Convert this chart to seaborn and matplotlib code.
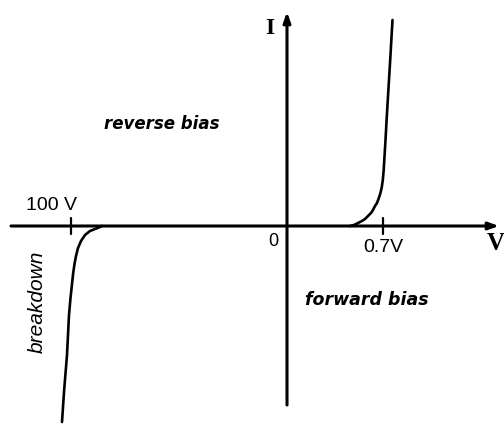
import matplotlib
matplotlib.use("Agg")
import matplotlib.pyplot as plt
import seaborn as sns
import pandas as pd

# Diode I-V characteristic (schematic units; origin at the axes crossing)
fwd_v = [63, 67, 71, 75, 78, 81, 84, 86, 88, 90, 92.2, 93.7, 94.8, 95.8, 96.7, 97.6,
         98.5, 99.6, 101.2, 103.2, 105.5]
fwd_i = [0, 1, 3, 5, 7, 10, 13, 16, 20, 23, 29, 34, 39, 46, 56, 71,
         86, 106, 133, 166, 206]
brk_v = [-185, -187, -192, -197, -202, -206, -209, -211, -212.5, -213.8, -215, -216.5,
         -218, -220, -223, -225]
brk_i = [0, -1, -3, -5, -9, -15, -22, -30, -38, -47, -58, -72,
         -89, -129, -166, -196]

tick_pos = [-216, 96]
tick_labels = ["100 V", "0.7V"]

sns.set_theme(style="white")
plt.rcParams['font.family'] = ['Liberation Sans', 'DejaVu Sans']
plt.rcParams['text.color'] = 'black'

fig = plt.figure(figsize=(5.04, 4.25), dpi=100)
ax = fig.add_axes([0, 0, 1, 1])
ax.set_xlim(-287, 217)
ax.set_ylim(-199, 226)
ax.axis("off")

fwd = pd.DataFrame({"V": fwd_v, "I": fwd_i})
brk = pd.DataFrame({"V": brk_v, "I": brk_i})
sns.lineplot(data=fwd, x="V", y="I", sort=False, color="black", lw=1.9, ax=ax)
sns.lineplot(data=brk, x="V", y="I", sort=False, color="black", lw=1.9, ax=ax)

# axes with arrows
ax.annotate("", xy=(212, 0), xytext=(-276, 0),
            arrowprops=dict(arrowstyle="-|>,head_length=0.5,head_width=0.18",
                            color="black", lw=2.2, shrinkA=0, shrinkB=0))
ax.annotate("", xy=(0, 214), xytext=(0, -179),
            arrowprops=dict(arrowstyle="-|>,head_length=0.5,head_width=0.18",
                            color="black", lw=2.2, shrinkA=0, shrinkB=0))

for p in tick_pos:
    ax.plot([p, p], [-8, 8], color="black", lw=1.6)

ax.text(tick_pos[0] - 20, 20, tick_labels[0], fontsize=14, color="black", ha="center", va="center")
ax.text(tick_pos[1], -21, tick_labels[1], fontsize=14, color="black", ha="center", va="center")
ax.text(-14, -15, "0", fontsize=13, color="black", ha="center", va="center")
ax.text(-17, 198, "I", fontsize=17, fontweight="bold", family=["Liberation Serif"],
        color="black", ha="center", va="center")
ax.text(209, -18, "V", fontsize=18, fontweight="bold", family=["Liberation Serif"],
        color="black", ha="center", va="center")
ax.text(-125, 102, "reverse bias", fontsize=12, fontweight="bold", style="italic",
        family=["DejaVu Sans"], color="black", ha="center", va="center")
ax.text(80, -74, "forward bias", fontsize=12.5, fontweight="bold", style="italic",
        family=["DejaVu Sans"], color="black", ha="center", va="center")
ax.text(-250, -76, "breakdown", fontsize=15, style="italic", rotation=90,
        color="black", ha="center", va="center")

fig.savefig("out.png", dpi=100)
